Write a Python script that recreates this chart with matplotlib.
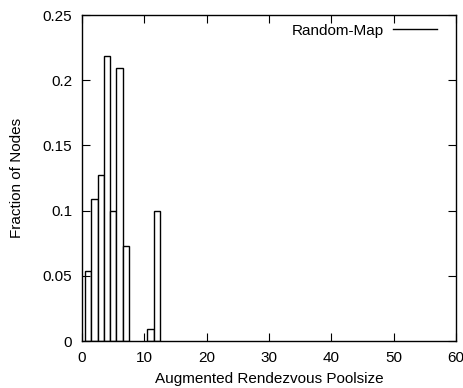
import matplotlib
matplotlib.use("Agg")
from matplotlib import pyplot as plt
from matplotlib.lines import Line2D

plt.rcParams["font.family"] = ["Liberation Sans", "DejaVu Sans"]
plt.rcParams["font.size"] = 11

# Augmented rendezvous poolsize histogram
poolsize = [1, 2, 3, 4, 5, 6, 7, 11, 12]
fraction = [0.054, 0.109, 0.1275, 0.2185, 0.100, 0.209, 0.0725, 0.009, 0.100]

x_ticks = [0, 10, 20, 30, 40, 50, 60]
y_ticks = [0, 0.05, 0.1, 0.15, 0.2, 0.25]
y_labels = ["0", "0.05", "0.1", "0.15", "0.2", "0.25"]

fig = plt.figure(figsize=(4.64, 3.88), dpi=100)
ax = fig.add_axes([0.1767, 0.1211, 0.8061, 0.8402])

ax.bar(poolsize, fraction, width=1.0, color="white", edgecolor="black",
       linewidth=1.0)

ax.set_xlim(0, 60)
ax.set_ylim(0, 0.25)
ax.set_xticks(x_ticks)
ax.set_yticks(y_ticks)
ax.set_yticklabels(y_labels)
ax.tick_params(direction="in", length=6, width=0.8, top=True, right=True, pad=7)
for s in ax.spines.values():
    s.set_linewidth(1.0)

ax.set_xlabel("Augmented Rendezvous Poolsize", va="baseline")
ax.xaxis.set_label_coords(0.5, -0.130)
ax.set_ylabel("Fraction of Nodes", va="center")
ax.yaxis.set_label_coords(-0.174, 0.5)

# gnuplot-style key: text on the left, line sample on the right
handle = Line2D([], [], color="black", linewidth=1.0)
ax.legend([handle], ["Random-Map"], loc="upper right", frameon=False,
          markerfirst=False, handlelength=2.9, handletextpad=0.6,
          borderaxespad=0.4, borderpad=0.3,
          bbox_to_anchor=(1 - 8 / 374, 1 + 2 / 326))

fig.savefig("out.png", dpi=100)
